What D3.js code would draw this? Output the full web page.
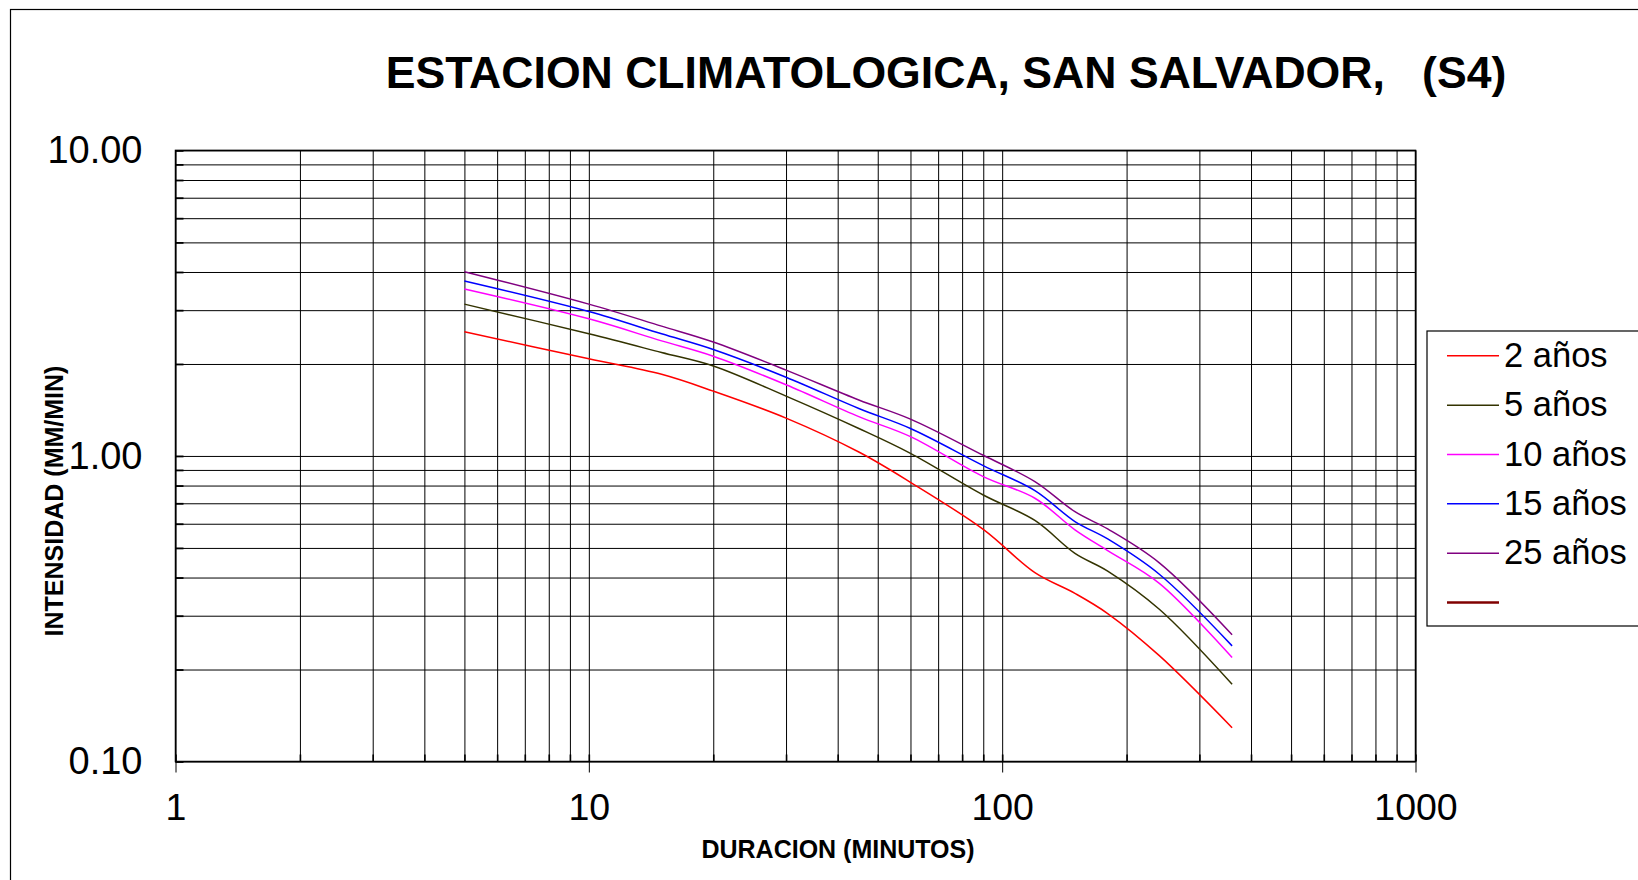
<!DOCTYPE html>
<html>
<head>
<meta charset="utf-8">
<script src="https://cdn.jsdelivr.net/npm/d3@7"></script>
<style>
  html, body { margin: 0; padding: 0; background: #fff; }
  svg { display: block; font-family: "Liberation Sans", Arial, sans-serif; }
</style>
</head>
<body>
<svg id="chart" width="1638" height="880"></svg>
<script>
// Intensity–duration curves, San Salvador climatological station (S4)
const durations = [5, 10, 15, 20, 30, 45, 60, 90, 120, 150, 180, 240, 360];

const seriesNames = ["2 años", "5 años", "10 años", "15 años", "25 años", ""];
const seriesColors = ["#ff0000", "#333300", "#ff00ff", "#0000ff", "#800080", "#800000"];

const i2 = [2.55, 2.08, 1.85, 1.63, 1.33, 1.03, 0.82, 0.575, 0.415, 0.355, 0.305, 0.222, 0.129];
const i5 = [3.14, 2.51, 2.18, 1.97, 1.57, 1.23, 1.02, 0.745, 0.615, 0.48, 0.42, 0.315, 0.179];
const i10 = [3.52, 2.81, 2.38, 2.12, 1.71, 1.345, 1.157, 0.856, 0.727, 0.573, 0.49, 0.383, 0.219];
const i15 = [3.74, 2.97, 2.51, 2.23, 1.81, 1.43, 1.23, 0.93, 0.77, 0.61, 0.535, 0.41, 0.239];
const i25 = [4.01, 3.14, 2.66, 2.36, 1.91, 1.525, 1.32, 1.005, 0.824, 0.657, 0.577, 0.447, 0.26];
const iEmpty = [];

const xTickValues = [1, 10, 100, 1000];
const xTickLabels = ["1", "10", "100", "1000"];
const yTickValues = [0.1, 1, 10];
const yTickLabels = ["0.10", "1.00", "10.00"];

const titleText = "ESTACION CLIMATOLOGICA, SAN SALVADOR,   (S4)";
const xTitle = "DURACION (MINUTOS)";
const yTitle = "INTENSIDAD (MM/MIN)";

const allSeries = [i2, i5, i10, i15, i25, iEmpty];

const svg = d3.select("#chart");
const plot = { left: 175.5, right: 1415.5, top: 150.4, bottom: 761.5 };

const x = d3.scaleLog().domain([1, 1000]).range([plot.left, plot.right]);
const y = d3.scaleLog().domain([0.1, 10]).range([plot.bottom, plot.top]);

// outer chart frame (runs off the right and bottom edges)
svg.append("rect")
  .attr("x", 10.5).attr("y", 9.5)
  .attr("width", 1700).attr("height", 900)
  .attr("fill", "none").attr("stroke", "#000").attr("stroke-width", 1.2);

// title
svg.append("text")
  .attr("x", 946).attr("y", 88)
  .attr("text-anchor", "middle")
  .attr("font-size", 44.6).attr("font-weight", "bold")
  .attr("xml:space", "preserve")
  .style("white-space", "pre")
  .text(titleText);

// log grid values: 1..9 per decade
const xGrid = [];
for (let p = 0; p < 3; p++) for (let m = 1; m <= 9; m++) xGrid.push(m * Math.pow(10, p));
xGrid.push(1000);
const yGrid = [];
for (let p = -1; p < 1; p++) for (let m = 1; m <= 9; m++) yGrid.push(+(m * Math.pow(10, p)).toFixed(3));
yGrid.push(10);

const height = plot.bottom - plot.top;
const width = plot.right - plot.left;

// vertical gridlines
svg.append("g")
  .attr("transform", `translate(0,${plot.bottom})`)
  .call(d3.axisBottom(x).tickValues(xGrid).tickSize(-height).tickFormat(""))
  .call(g => g.select(".domain").remove())
  .selectAll("line").attr("stroke", "#000").attr("stroke-width", 1);

// horizontal gridlines
svg.append("g")
  .attr("transform", `translate(${plot.left},0)`)
  .call(d3.axisLeft(y).tickValues(yGrid).tickSize(-width).tickFormat(""))
  .call(g => g.select(".domain").remove())
  .selectAll("line").attr("stroke", "#000").attr("stroke-width", 1);

// short inner tick marks along the left and bottom edges
svg.append("g")
  .attr("transform", `translate(${plot.left},0)`)
  .call(d3.axisRight(y).tickValues(yGrid).tickSize(8).tickFormat(""))
  .call(g => g.select(".domain").remove())
  .selectAll("line").attr("stroke", "#000").attr("stroke-width", 1.8);
svg.append("g")
  .attr("transform", `translate(0,${plot.bottom})`)
  .call(d3.axisTop(x).tickValues(xGrid).tickSize(7).tickFormat(""))
  .call(g => g.select(".domain").remove())
  .selectAll("line").attr("stroke", "#000").attr("stroke-width", 1.6);

// plot border
svg.append("rect")
  .attr("x", plot.left).attr("y", plot.top)
  .attr("width", width).attr("height", height)
  .attr("fill", "none").attr("stroke", "#000").attr("stroke-width", 1.5);

// x axis labels with outer decade ticks
const xAxis = svg.append("g")
  .attr("transform", `translate(0,${plot.bottom})`)
  .call(d3.axisBottom(x).tickValues(xTickValues).tickSize(11).tickPadding(21)
    .tickFormat((d, i) => xTickLabels[i]));
xAxis.select(".domain").remove();
xAxis.selectAll("line").attr("stroke", "#000").attr("stroke-width", 1);
xAxis.selectAll("text").attr("font-size", 37.5).attr("fill", "#000")
  .attr("font-family", "Liberation Sans, Arial, sans-serif");

// y axis labels
const yAxis = svg.append("g")
  .attr("transform", `translate(${plot.left},0)`)
  .call(d3.axisLeft(y).tickValues(yTickValues).tickSize(0).tickPadding(33)
    .tickFormat((d, i) => yTickLabels[i]));
yAxis.select(".domain").remove();
yAxis.selectAll("text").attr("font-size", 38).attr("fill", "#000")
  .attr("font-family", "Liberation Sans, Arial, sans-serif");

// axis titles
svg.append("text")
  .attr("x", 838).attr("y", 858)
  .attr("text-anchor", "middle")
  .attr("font-size", 25).attr("font-weight", "bold")
  .text(xTitle);
svg.append("text")
  .attr("transform", "translate(63,501) rotate(-90)")
  .attr("text-anchor", "middle")
  .attr("font-size", 25).attr("font-weight", "bold")
  .text(yTitle);

// curves
const line = d3.line()
  .x(d => x(d[0]))
  .y(d => y(d[1]))
  .curve(d3.curveCatmullRom.alpha(0.5));

allSeries.forEach((vals, s) => {
  if (!vals.length) return;
  svg.append("path")
    .datum(durations.map((d, i) => [d, vals[i]]))
    .attr("d", line)
    .attr("fill", "none")
    .attr("stroke", seriesColors[s])
    .attr("stroke-width", 1.5);
});

// legend
const legend = svg.append("g");
legend.append("rect")
  .attr("x", 1427).attr("y", 331)
  .attr("width", 260).attr("height", 295)
  .attr("fill", "#fff").attr("stroke", "#000").attr("stroke-width", 1.2);

const legendRows = [355.7, 405.2, 454.5, 503.8, 553.2, 602.4];
seriesNames.forEach((name, s) => {
  const ly = legendRows[s];
  legend.append("line")
    .attr("x1", 1447).attr("x2", 1499)
    .attr("y1", ly).attr("y2", ly)
    .attr("stroke", seriesColors[s])
    .attr("stroke-width", s === 5 ? 2.5 : 1.5);
  if (name) {
    legend.append("text")
      .attr("x", 1504).attr("y", ly + 11)
      .attr("font-size", 34.5)
      .text(name);
  }
});
</script>
</body>
</html>
